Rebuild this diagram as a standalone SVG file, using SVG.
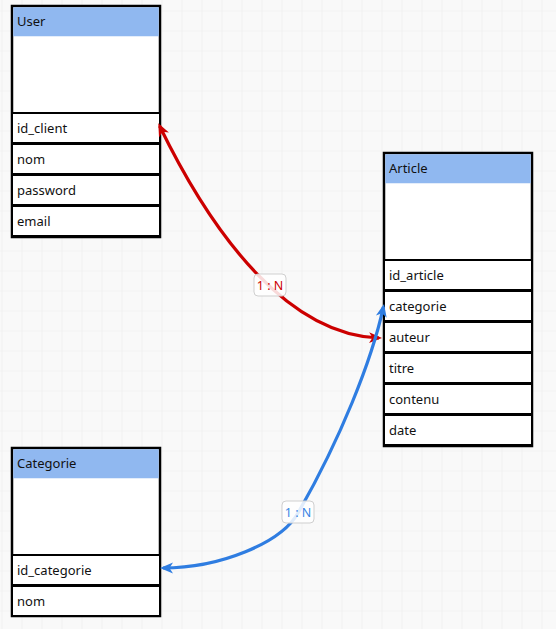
<svg xmlns="http://www.w3.org/2000/svg" width="556" height="629" viewBox="0 0 556 629">
<defs>
  <pattern id="grid" x="1.5" y="10.5" width="20" height="20" patternUnits="userSpaceOnUse">
    <path d="M0,0 H20 M0,0 V20" fill="none" stroke="#ececec" stroke-width="1.2"/>
  </pattern>
  <marker id="arrRed" viewBox="0 0 14 14" markerWidth="14" markerHeight="14" refX="10" refY="7" orient="auto-start-reverse" markerUnits="userSpaceOnUse">
    <path d="M0,1.5 L13,7 L0,12.5 L3.5,7 Z" fill="#cc0000"/>
  </marker>
  <marker id="arrBlue" viewBox="0 0 14 14" markerWidth="14" markerHeight="14" refX="10" refY="7" orient="auto-start-reverse" markerUnits="userSpaceOnUse">
    <path d="M0,1.5 L13,7 L0,12.5 L3.5,7 Z" fill="#2f7de1"/>
  </marker>
</defs>
<style>
  .outer { fill: #ffffff; stroke: #000000; stroke-width: 2.5; }
  .hdr { fill: #90b8f0; stroke: none; }
  .row { fill: #ffffff; stroke: #000000; stroke-width: 2; }
  .t { font-family: "Noto Sans", "Open Sans", sans-serif; font-size: 13px; fill: #111111; }
  .edge { fill: none; stroke-width: 3.2; }
  .lbl { fill: #ffffff; fill-opacity: 0.85; stroke: #cfcfcf; stroke-width: 1; }
  .lt { font-family: "Noto Sans", "Open Sans", sans-serif; font-size: 12.5px; text-anchor: middle; }
</style>
<rect width="556" height="629" fill="#f9f9f9"/>
<rect width="556" height="629" fill="url(#grid)"/>

<g id="user">
  <rect class="outer" x="12" y="6" width="148" height="231"/>
  <rect class="hdr" x="13.25" y="7.25" width="145.5" height="29"/>
  <text class="t" x="17" y="26">User</text>
  <rect class="row" x="12" y="113" width="148" height="30"/>
  <text class="t" x="17" y="132.5">id_client</text>
  <rect class="row" x="12" y="144" width="148" height="30"/>
  <text class="t" x="17" y="163.5">nom</text>
  <rect class="row" x="12" y="175" width="148" height="30"/>
  <text class="t" x="17" y="194.5">password</text>
  <rect class="row" x="12" y="206" width="148" height="30"/>
  <text class="t" x="17" y="225.5">email</text>
</g>

<g id="article">
  <rect class="outer" x="384" y="153" width="148" height="293"/>
  <rect class="hdr" x="385.25" y="154.25" width="145.5" height="29"/>
  <text class="t" x="389" y="173">Article</text>
  <rect class="row" x="384" y="260" width="148" height="30"/>
  <text class="t" x="389" y="279.5">id_article</text>
  <rect class="row" x="384" y="291" width="148" height="30"/>
  <text class="t" x="389" y="310.5">categorie</text>
  <rect class="row" x="384" y="322" width="148" height="30"/>
  <text class="t" x="389" y="341.5">auteur</text>
  <rect class="row" x="384" y="353" width="148" height="30"/>
  <text class="t" x="389" y="372.5">titre</text>
  <rect class="row" x="384" y="384" width="148" height="30"/>
  <text class="t" x="389" y="403.5">contenu</text>
  <rect class="row" x="384" y="415" width="148" height="30"/>
  <text class="t" x="389" y="434.5">date</text>
</g>

<g id="categorie">
  <rect class="outer" x="12" y="448" width="148" height="168"/>
  <rect class="hdr" x="13.25" y="449.25" width="145.5" height="29"/>
  <text class="t" x="17" y="468">Categorie</text>
  <rect class="row" x="12" y="555" width="148" height="30"/>
  <text class="t" x="17" y="574.5">id_categorie</text>
  <rect class="row" x="12" y="586" width="148" height="30"/>
  <text class="t" x="17" y="605.5">nom</text>
</g>

<g id="connectors">
  <path class="edge" stroke="#cc0000" d="M159.6,126 C215,240 290,335 379,338" marker-start="url(#arrRed)" marker-end="url(#arrRed)"/>
  <path class="edge" stroke="#2f7de1" d="M383.4,306.9 C372,360 340,440 298,513 C281,543 220,568 163,568" marker-start="url(#arrBlue)" marker-end="url(#arrBlue)"/>
  <rect class="lbl" x="254" y="274" width="32" height="22" rx="4"/>
  <text class="lt" x="270" y="289.5" fill="#cc0000">1 : N</text>
  <rect class="lbl" x="282" y="501" width="32" height="22" rx="4"/>
  <text class="lt" x="298" y="516.5" fill="#3a86e4">1 : N</text>
</g>
</svg>
